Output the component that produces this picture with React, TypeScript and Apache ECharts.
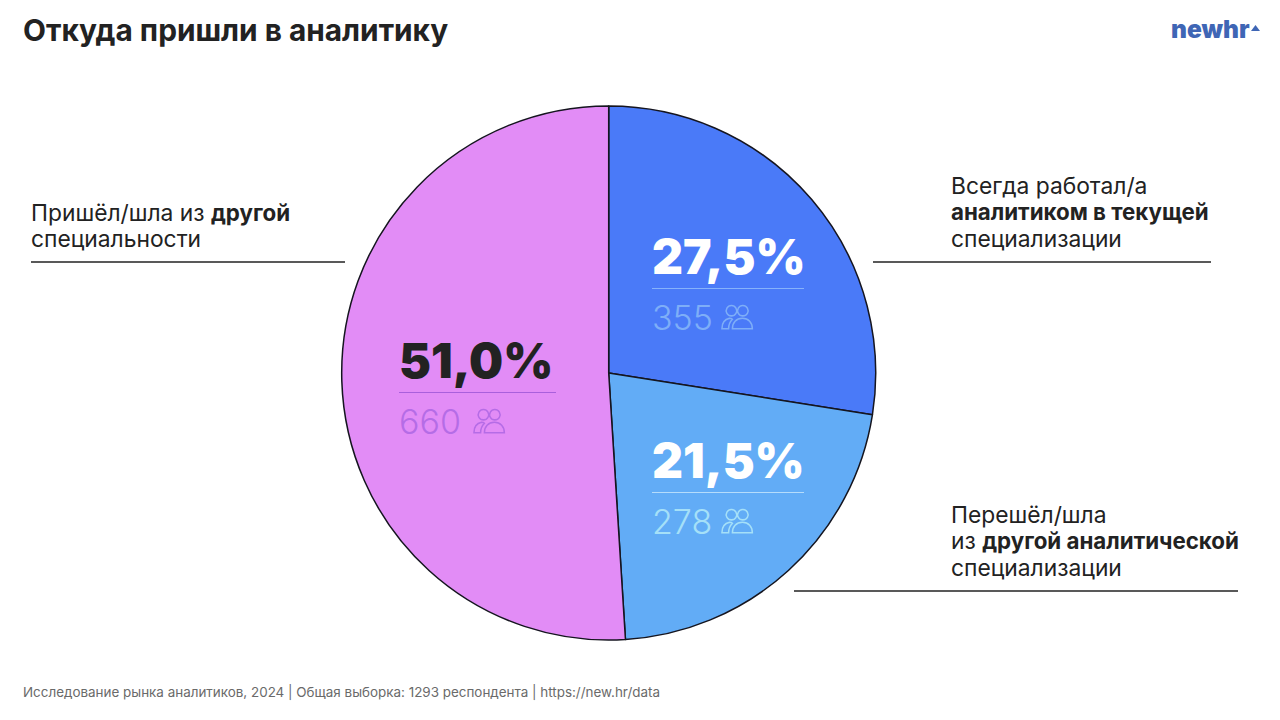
import React, { useEffect, useRef } from "react";
import * as echarts from "echarts";

const names = ["Всегда работал/а аналитиком в текущей специализации", "Перешёл/шла из другой аналитической специализации", "Пришёл/шла из другой специальности"];
const percents = [27.5, 21.5, 51.0];
const counts = [355, 278, 660];
const colors = ["#4a7af8", "#62acf6", "#e28cf6"];
const title = "Откуда пришли в аналитику";
const footer = "Исследование рынка аналитиков, 2024 | Общая выборка: 1293 респондента | https://new.hr/data";

const FONT = "Inter, 'Open Sans', sans-serif";
const INK = "#222222";
const Z = 10;

const PEOPLE_D =
  "M11 1.5a5.5 5.5 0 1 1-.01 0Z M23 1.5a5.5 5.5 0 1 1-.01 0Z M1 26c0-6 3-10 8-11 1.5 0 2.5.5 3 1-2.5 2.5-4 6-4 10Z M12 26c0-6.5 4-11 10.5-11S33 19.5 33 26Z";
echarts.graphic.registerShape("people", echarts.graphic.extendPath(PEOPLE_D, {}));

const fmt = (v: number) => v.toFixed(1).replace(".", ",") + "%";

function statBlock(i: number, x: number, y: number, w: number, iconDx: number, pctColor: string, lineColor: string, numColor: string) {
  return [
    { type: "text", z: Z, x, y, style: { text: fmt(percents[i]), font: `900 48px ${FONT}`, fill: pctColor, textVerticalAlign: "middle" } },
    { type: "line", z: Z, shape: { x1: x, y1: y + 32.5, x2: x + w, y2: y + 32.5 }, style: { stroke: lineColor, lineWidth: 1 } },
    { type: "text", z: Z, x, y: y + 61, style: { text: String(counts[i]), font: `300 34px ${FONT}`, fill: numColor, textVerticalAlign: "middle" } },
    { type: "people", z: Z, x: x + iconDx, y: y + 48, scaleX: 0.95, scaleY: 0.95, style: { fill: "none", stroke: numColor, lineWidth: 1.6 } },
  ];
}

function labelBlock(x: number, y: number, lines: string[]) {
  return {
    type: "text",
    z: Z,
    x,
    y,
    style: {
      text: lines.join("\n"),
      font: `400 22.8px ${FONT}`,
      lineHeight: 26.5,
      fill: INK,
      rich: {
        b: { font: `700 22.3px ${FONT}`, fill: INK, lineHeight: 26.5 },
        n: { font: `400 22.8px ${FONT}`, fill: INK, lineHeight: 26.5 },
      },
    },
  };
}

const rule = (x1: number, x2: number, y: number) => ({
  type: "line",
  z: Z,
  shape: { x1, y1: y, x2, y2: y },
  style: { stroke: INK, lineWidth: 1.4 },
});

export default function App() {
  const ref = useRef<HTMLDivElement>(null);
  useEffect(() => {
    const chart = echarts.init(ref.current!, null, { renderer: "svg" });
    chart.setOption({
      animation: false,
      backgroundColor: "#ffffff",
      series: [
        {
          type: "pie",
          center: [608.7, 373],
          radius: [0, 267],
          startAngle: 90,
          clockwise: true,
          silent: true,
          label: { show: false },
          labelLine: { show: false },
          itemStyle: { borderColor: "#15151f", borderWidth: 1.5 },
          data: percents.map((v, i) => ({ value: v, name: names[i], itemStyle: { color: colors[i] } })),
        },
      ],
      graphic: [
        { type: "text", z: Z, x: 23, y: 30, style: { text: title, font: `700 29.8px ${FONT}`, fill: INK, textVerticalAlign: "middle" } },
        { type: "text", z: Z, x: 23, y: 692, style: { text: footer, font: `400 13.43px ${FONT}`, fill: "#6a6a6a", textVerticalAlign: "middle" } },
        { type: "text", z: Z, x: 1171, y: 29, style: { text: "newhr", font: `900 24.5px ${FONT}`, fill: "#3f66b5", textVerticalAlign: "middle" } },
        { type: "polygon", z: Z, shape: { points: [[1251, 31], [1255.5, 25], [1260, 31]] }, style: { fill: "#3f66b5" } },
        labelBlock(31, 199, ["{n|Пришёл/шла из }{b|другой}", "{n|специальности}"]),
        rule(31, 345, 262),
        labelBlock(951, 172, ["{n|Всегда работал/а}", "{b|аналитиком в текущей}", "{n|специализации}"]),
        rule(873, 1211, 262),
        labelBlock(951, 501, ["{n|Перешёл/шла}", "{n|из }{b|другой аналитической}", "{n|специализации}"]),
        rule(794, 1238, 591),
        ...statBlock(0, 652, 256, 152, 69, "#ffffff", "#86b2fb", "#7eaef8"),
        ...statBlock(1, 652, 460, 152, 69, "#ffffff", "#b5dcfb", "#a5e0f8"),
        ...statBlock(2, 399, 360, 157, 74, "#222222", "#a95fdc", "#b56ce6"),
      ],
    });
    return () => chart.dispose();
  }, []);
  return <div ref={ref} style={{ position: "fixed", left: 0, top: 0, width: 1280, height: 720 }} />;
}
